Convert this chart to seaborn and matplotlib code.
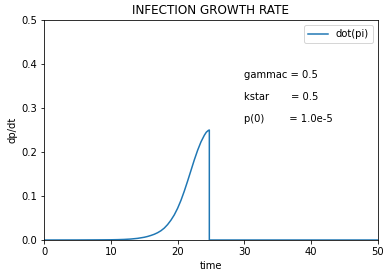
import matplotlib
matplotlib.use("Agg")
import matplotlib.pyplot as plt
import seaborn as sns
import pandas as pd

time = [0, 5, 8, 10, 11, 12, 13, 14, 15, 15.5, 16, 16.5, 17, 17.5, 18, 18.5, 19, 19.5,
        20, 20.5, 21, 21.5, 22, 22.5, 23, 23.5, 24, 24.3, 24.6, 24.75, 24.75, 50]
dpdt = [0.0, 0.0001, 0.0003, 0.0005, 0.0008, 0.0013, 0.0022, 0.0037, 0.0062, 0.008,
        0.0103, 0.013, 0.0165, 0.021, 0.027, 0.035, 0.045, 0.057, 0.072, 0.090, 0.111,
        0.134, 0.158, 0.182, 0.204, 0.223, 0.238, 0.245, 0.249, 0.25, 0.0, 0.0]
param_labels = ["gammac = 0.5", "kstar       = 0.5", "p(0)        = 1.0e-5"]
param_y = [0.375, 0.325, 0.275]

df = pd.DataFrame({"time": time, "dpdt": dpdt})

fig = plt.figure(figsize=(392 / 72, 278 / 72), dpi=72)
ax = fig.add_axes([44 / 392, 38 / 278, 334 / 392, 220 / 278])
sns.lineplot(data=df, x="time", y="dpdt", estimator=None, sort=False,
             color="#1f77b4", linewidth=1.5, label="dot(pi)", ax=ax)
ax.set_xlim(0, 50)
ax.set_ylim(0, 0.5)
ax.set_xlabel("time", fontsize=10)
ax.set_ylabel("dp/dt", fontsize=10)
ax.set_title("INFECTION GROWTH RATE", fontsize=12)
ax.tick_params(labelsize=10)
for lab, yy in zip(param_labels, param_y):
    ax.text(30, yy, lab, fontsize=10, va="center", ha="left")
ax.legend(loc="upper right", fontsize=10)
fig.savefig("out.png", dpi=72)
